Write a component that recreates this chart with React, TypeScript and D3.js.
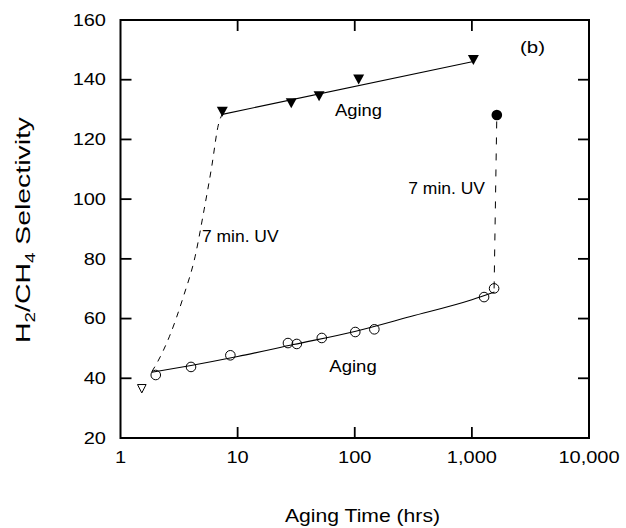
import React from "react";
import * as d3 from "d3";

// ---- axis ticks ----
const xTickValues = [1, 10, 100, 1000, 10000];
const xTickLabels = ["1", "10", "100", "1,000", "10,000"];
const yTickValues = [20, 40, 60, 80, 100, 120, 140, 160];

// ---- UV treated + aging (filled triangles) ----
const uvAgedHours = [7.4, 28.7, 49.6, 108, 1030];
const uvAgedSel = [129.3, 132.1, 134.5, 140.1, 146.6];
const uvAgedFitHours = [7.4, 1030];
const uvAgedFitSel = [128.4, 146.1];

// ---- aging only (open circles) ----
const agingHours = [2.0, 4.0, 8.67, 26.9, 32.0, 52.3, 101, 147, 1271, 1548];
const agingSel = [41.1, 43.8, 47.7, 51.8, 51.5, 53.5, 55.5, 56.4, 67.2, 70.1];
const agingFitHours = [1.85, 4, 10, 30, 100, 300, 1000, 1560];
const agingFitSel = [42.0, 44.3, 47.3, 51.3, 55.7, 60.7, 66.3, 68.9];

// ---- fresh film (open triangle) and late UV (filled circle) ----
const freshHours = [1.52];
const freshSel = [36.5];
const uvLateHours = [1633];
const uvLateSel = [128.2];

// ---- dashed "7 min. UV" paths ----
const uvEarlyPathHours = [1.85, 2.04, 2.61, 3.44, 4.33, 5.17, 6.01, 6.84, 7.4];
const uvEarlyPathSel = [42.2, 45.0, 53.9, 67.3, 80.7, 96.4, 110.9, 124.8, 128.5];
const uvLatePathHours = [1548, 1633];
const uvLatePathSel = [70.1, 128.2];

const W = 626;
const H = 528;
const left = 120.5;
const right = 589;
const top = 20;
const bottom = 438;
const FONT = "'Liberation Sans', Arial, Helvetica, sans-serif";

export default function App() {
  const x = d3.scaleLog().domain([1, 10000]).range([left, right]);
  const y = d3.scaleLinear().domain([20, 160]).range([bottom, top]);

  const zip = (xs: number[], ys: number[]) => xs.map((v, i) => [v, ys[i]] as [number, number]);

  const lineStraight = d3
    .line<[number, number]>()
    .x((d) => x(d[0]))
    .y((d) => y(d[1]));
  const lineCurve = d3
    .line<[number, number]>()
    .x((d) => x(d[0]))
    .y((d) => y(d[1]))
    .curve(d3.curveMonotoneX);

  const tickLen = 11;

  const downTri = (cx: number, cy: number, hw: number, hh: number) =>
    `M${cx - hw},${cy - hh}L${cx + hw},${cy - hh}L${cx},${cy + hh}Z`;

  return (
    <svg
      width={W}
      height={H}
      style={{ position: "absolute", left: 0, top: 0, background: "#fff" }}
      fontFamily={FONT}
    >
      <rect x={0} y={0} width={W} height={H} fill="#fff" />

      {/* ticks */}
      {xTickValues.slice(1, -1).map((v) => (
        <g key={"xt" + v} stroke="#000" strokeWidth={1.8}>
          <line x1={x(v)} x2={x(v)} y1={bottom} y2={bottom - tickLen} />
          <line x1={x(v)} x2={x(v)} y1={top} y2={top + tickLen} />
        </g>
      ))}
      {yTickValues.slice(1, -1).map((v) => (
        <g key={"yt" + v} stroke="#000" strokeWidth={1.8}>
          <line x1={left} x2={left + tickLen} y1={y(v)} y2={y(v)} />
          <line x1={right} x2={right - tickLen} y1={y(v)} y2={y(v)} />
        </g>
      ))}

      {/* frame */}
      <rect
        x={left}
        y={top}
        width={right - left}
        height={bottom - top}
        fill="none"
        stroke="#000"
        strokeWidth={2}
      />

      {/* tick labels */}
      {xTickValues.map((v, i) => (
        <text
          key={"xl" + v}
          transform={`translate(${x(v)},463) scale(1.25,1)`}
          textAnchor="middle"
          fontSize={16}
          fill="#000"
        >
          {xTickLabels[i]}
        </text>
      ))}
      {yTickValues.map((v) => (
        <text
          key={"yl" + v}
          transform={`translate(106,${y(v) + 5.7}) scale(1.25,1)`}
          textAnchor="end"
          fontSize={16}
          fill="#000"
        >
          {v}
        </text>
      ))}

      {/* axis titles */}
      <text
        x={285}
        y={522}
        fontSize={19}
        textLength={155}
        lengthAdjust="spacingAndGlyphs"
        fill="#000"
      >
        Aging Time (hrs)
      </text>
      <text
        transform="translate(30,230) rotate(-90)"
        textAnchor="middle"
        fontSize={21}
        textLength={226}
        lengthAdjust="spacingAndGlyphs"
        fill="#000"
      >
        H<tspan fontSize={14} dy={5}>2</tspan>
        <tspan dy={-5}>/CH</tspan>
        <tspan fontSize={14} dy={5}>4</tspan>
        <tspan dy={-5}> Selectivity</tspan>
      </text>

      {/* dashed UV paths */}
      <path
        d={lineCurve(zip(uvEarlyPathHours, uvEarlyPathSel)) || ""}
        fill="none"
        stroke="#000"
        strokeWidth={1}
        strokeDasharray="6,6"
      />
      <path
        d={lineStraight(zip(uvLatePathHours, uvLatePathSel)) || ""}
        fill="none"
        stroke="#000"
        strokeWidth={1}
        strokeDasharray="7,9"
      />

      {/* fit lines */}
      <path
        d={lineStraight(zip(uvAgedFitHours, uvAgedFitSel)) || ""}
        fill="none"
        stroke="#000"
        strokeWidth={1.1}
      />
      <path
        d={lineCurve(zip(agingFitHours, agingFitSel)) || ""}
        fill="none"
        stroke="#000"
        strokeWidth={1.1}
      />

      {/* markers */}
      {uvAgedHours.map((h, i) => (
        <path key={"ft" + i} d={downTri(x(h), y(uvAgedSel[i]), 5.5, 5)} fill="#000" />
      ))}
      {agingHours.map((h, i) => (
        <circle
          key={"oc" + i}
          cx={x(h)}
          cy={y(agingSel[i])}
          r={4.8}
          fill="none"
          stroke="#000"
          strokeWidth={1}
        />
      ))}
      {freshHours.map((h, i) => (
        <path
          key={"ot" + i}
          d={downTri(x(h), y(freshSel[i]), 4.3, 4.2)}
          fill="#fff"
          stroke="#000"
          strokeWidth={1}
        />
      ))}
      {uvLateHours.map((h, i) => (
        <circle key={"fc" + i} cx={x(h)} cy={y(uvLateSel[i])} r={5.3} fill="#000" />
      ))}

      {/* annotations */}
      <text x={335} y={116} fontSize={17} textLength={47} lengthAdjust="spacingAndGlyphs" fill="#000">
        Aging
      </text>
      <text x={329.3} y={371.7} fontSize={17} textLength={47.4} lengthAdjust="spacingAndGlyphs" fill="#000">
        Aging
      </text>
      <text x={202} y={241.5} fontSize={17} textLength={76.6} lengthAdjust="spacingAndGlyphs" fill="#000">
        7 min. UV
      </text>
      <text x={408.3} y={194.3} fontSize={17} textLength={76.7} lengthAdjust="spacingAndGlyphs" fill="#000">
        7 min. UV
      </text>
      <text x={520} y={53} fontSize={17} textLength={25} lengthAdjust="spacingAndGlyphs" fill="#000">
        (b)
      </text>
    </svg>
  );
}
